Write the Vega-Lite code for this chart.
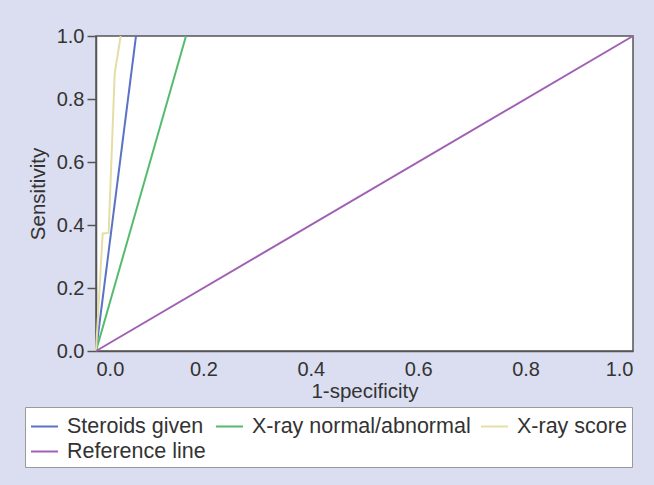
{
  "$schema": "https://vega.github.io/schema/vega-lite/v6.json",
  "width": 537,
  "height": 315,
  "autosize": "none",
  "padding": {"left": 96, "top": 36, "right": 21, "bottom": 134},
  "background": "#dbdef0",
  "config": {
    "font": "Liberation Sans",
    "view": {"stroke": "#555555", "strokeWidth": 1.5, "fill": "white"}
  },
  "data": {
    "values": [
      {"series": "Steroids given", "fpr": 0, "tpr": 0, "i": 0},
      {"series": "Steroids given", "fpr": 0.0745, "tpr": 1, "i": 1},
      {"series": "X-ray normal/abnormal", "fpr": 0, "tpr": 0, "i": 0},
      {"series": "X-ray normal/abnormal", "fpr": 0.1676, "tpr": 1, "i": 1},
      {"series": "X-ray score", "fpr": 0, "tpr": 0, "i": 0},
      {"series": "X-ray score", "fpr": 0.0124, "tpr": 0.373, "i": 1},
      {"series": "X-ray score", "fpr": 0.0236, "tpr": 0.375, "i": 2},
      {"series": "X-ray score", "fpr": 0.0348, "tpr": 0.881, "i": 3},
      {"series": "X-ray score", "fpr": 0.0459, "tpr": 1, "i": 4},
      {"series": "Reference line", "fpr": 0, "tpr": 0, "i": 0},
      {"series": "Reference line", "fpr": 1, "tpr": 1, "i": 1}
    ]
  },
  "mark": {"type": "line", "strokeWidth": 2, "clip": false},
  "encoding": {
    "x": {
      "field": "fpr",
      "type": "quantitative",
      "scale": {"domain": [0, 1], "nice": false, "zero": false},
      "axis": {
        "title": "1-specificity",
        "values": [0, 0.2, 0.4, 0.6, 0.8, 1],
        "format": ".1f",
        "grid": false,
        "ticks": false,
        "domainColor": "#555555",
        "domainWidth": 1.5,
        "labelFontSize": 20,
        "labelColor": "#333333",
        "labelPadding": 8,
        "titleFontSize": 20.5,
        "titleFontWeight": "normal",
        "titleColor": "#333333",
        "titlePadding": 2
      }
    },
    "y": {
      "field": "tpr",
      "type": "quantitative",
      "scale": {"domain": [0, 1], "nice": false, "zero": false},
      "axis": {
        "title": "Sensitivity",
        "values": [0, 0.2, 0.4, 0.6, 0.8, 1],
        "format": ".1f",
        "grid": false,
        "ticks": true,
        "tickSize": 9,
        "tickColor": "#555555",
        "tickWidth": 1.5,
        "domainColor": "#555555",
        "domainWidth": 1.5,
        "labelFontSize": 20,
        "labelColor": "#333333",
        "labelPadding": 3,
        "titleFontSize": 20.5,
        "titleFontWeight": "normal",
        "titleColor": "#333333",
        "titlePadding": 8
      }
    },
    "color": {
      "field": "series",
      "type": "nominal",
      "scale": {
        "domain": ["Steroids given", "X-ray normal/abnormal", "X-ray score", "Reference line"],
        "range": ["#5b73c7", "#54bb6e", "#e4dea6", "#a060b4"]
      },
      "legend": {
        "title": null,
        "orient": "none",
        "legendX": -71,
        "legendY": 371,
        "direction": "horizontal",
        "columns": 3,
        "columnPadding": 6,
        "rowPadding": -3,
        "padding": 5,
        "fillColor": "white",
        "strokeColor": "#999999",
        "symbolType": "stroke",
        "symbolSize": 729,
        "symbolStrokeWidth": 2,
        "labelFontSize": 21.5,
        "labelColor": "#333333",
        "labelOffset": 8,
        "labelLimit": 400
      }
    },
    "order": {"field": "i", "type": "quantitative"}
  }
}
